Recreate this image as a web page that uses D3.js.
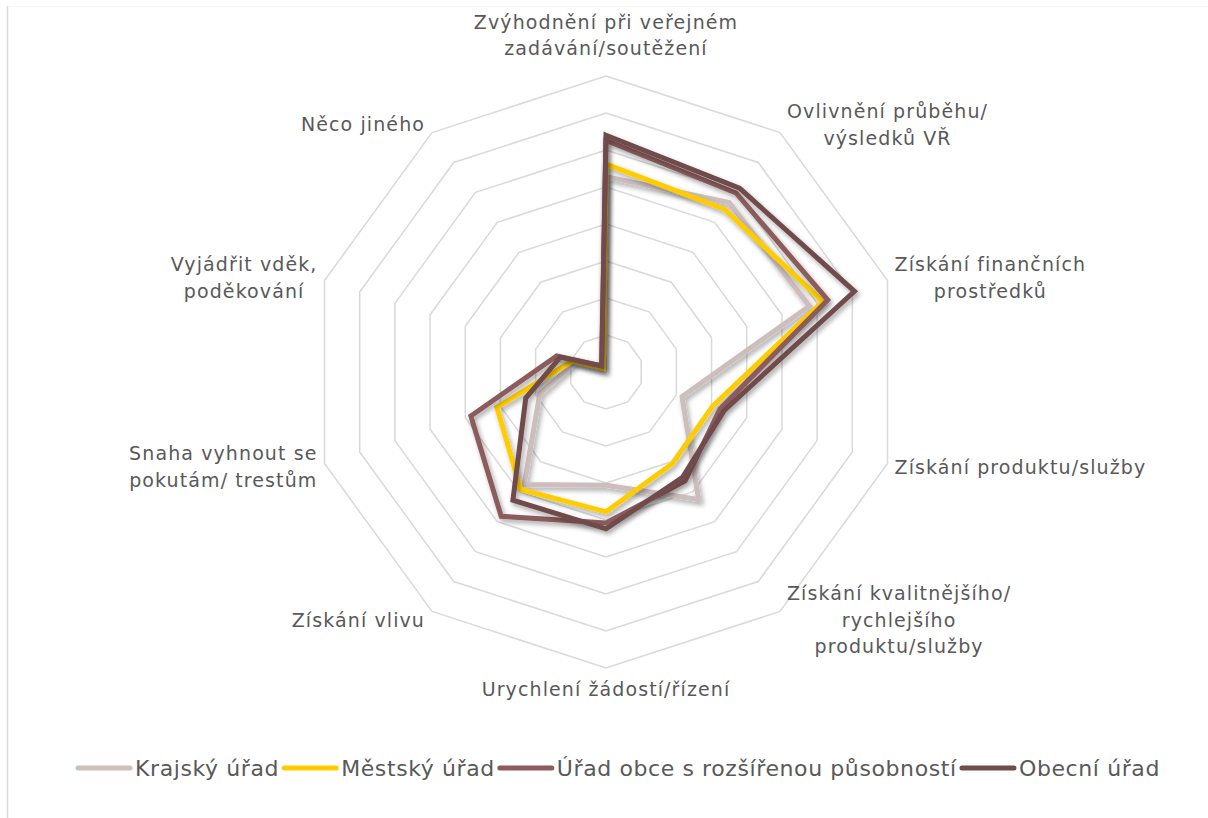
<!DOCTYPE html>
<html>
<head>
<meta charset="utf-8">
<title>Radar</title>
<style>
body { margin: 0; background: #fff; }
svg { display: block; }
text { font-family: "DejaVu Sans", sans-serif; fill: #595959; }
</style>
</head>
<body>
<svg width="1208" height="818"></svg>
<script src="https://d3js.org/d3.v7.min.js"></script>
<script>
// categories, clockwise from the top
var categories = [
  ["Zvýhodnění při veřejném", "zadávání/soutěžení"],
  ["Ovlivnění průběhu/", "výsledků VŘ"],
  ["Získání finančních", "prostředků"],
  ["Získání produktu/služby"],
  ["Získání kvalitnějšího/", "rychlejšího", "produktu/služby"],
  ["Urychlení žádostí/řízení"],
  ["Získání vlivu"],
  ["Snaha vyhnout se", "pokutám/ trestům"],
  ["Vyjádřit vděk,", "poděkování"],
  ["Něco jiného"]
];
var seriesNames = ["Krajský úřad", "Městský úřad", "Úřad obce s rozšířenou působností", "Obecní úřad"];
var krajsky = [26.4, 28.3, 28.9, 10.8, 21.3, 15.3, 18.8, 9.4, 4.3, 0.3];
var mestsky = [28.1, 27.2, 30.8, 15.1, 15.3, 18.9, 19.6, 15.5, 4.8, 0.6];
var rop     = [31.3, 29.9, 31.5, 16.2, 18.2, 20.4, 24.1, 19.2, 7.0, 1.0];
var obecni  = [32.0, 30.7, 35.3, 16.8, 17.6, 21.2, 21.4, 11.4, 6.5, 1.0];
var ringTicks = [5, 10, 15, 20, 25, 30, 35, 40];

var colors = ["#CDBDBD", "#FFCC00", "#8C5C5C", "#714B4B"];
var allSeries = [krajsky, mestsky, rop, obecni];

var svg = d3.select("svg");
var cx = 606, cy = 372;
var r = d3.scaleLinear().domain([0, 40]).range([0, 296]);
var n = categories.length;
var angle = d3.scaleLinear().domain([0, n]).range([0, 2 * Math.PI]);

function pt(i, v) {
  var a = angle(i);
  return [Math.sin(a) * r(v), -Math.cos(a) * r(v)];
}

// left frame edge
svg.append("line").attr("x1", 7.5).attr("x2", 7.5).attr("y1", 6).attr("y2", 818)
  .attr("stroke", "#D9D9D9").attr("stroke-width", 1.5);
svg.append("line").attr("x1", 8).attr("x2", 1208).attr("y1", 6.5).attr("y2", 6.5)
  .attr("stroke", "#F4F4F4").attr("stroke-width", 1);

var defs = svg.append("defs");
var f = defs.append("filter").attr("id", "shadow")
  .attr("x", "-20%").attr("y", "-20%").attr("width", "140%").attr("height", "140%");
f.append("feDropShadow").attr("dx", 2).attr("dy", 3).attr("stdDeviation", 2.5)
  .attr("flood-color", "#000").attr("flood-opacity", 0.35);

var g = svg.append("g").attr("transform", "translate(" + cx + "," + cy + ")");

// grid rings
var ring = d3.line().curve(d3.curveLinearClosed);
g.selectAll("path.ring").data(ringTicks).enter().append("path")
  .attr("class", "ring")
  .attr("d", function(t) { return ring(d3.range(n).map(function(i) { return pt(i, t); })); })
  .attr("fill", "none").attr("stroke", "#D9D9D9").attr("stroke-width", 1.5);

// series
g.selectAll("path.series").data(allSeries).enter().append("path")
  .attr("class", "series")
  .attr("d", function(s) { return ring(s.map(function(v, i) { return pt(i, v); })); })
  .attr("fill", "none")
  .attr("stroke", function(d, i) { return colors[i]; })
  .attr("stroke-width", 5)
  .attr("stroke-linejoin", "miter")
  .attr("filter", "url(#shadow)");

// category labels
var lh = 26.5, gap = 7;
categories.forEach(function(lines, i) {
  var a = angle(i);
  var dx = Math.sin(a), dy = -Math.cos(a);
  var vx = dx * r(40), vy = dy * r(40);
  var lg = g.append("g");
  var t = lg.append("text").attr("font-size", 19).attr("letter-spacing", 1.1)
    .attr("text-anchor", "middle");
  lines.forEach(function(s, k) {
    t.append("tspan").attr("x", 0).attr("y", k * lh).text(s);
  });
  var bb = t.node().getBBox();
  var bw = bb.width, bh = (lines.length - 1) * lh;
  var tx, ty;
  if (Math.abs(dx) < 0.01) {
    tx = vx;
    ty = dy < 0 ? vy - 21 - bh : vy + 28;
  } else {
    tx = dx > 0 ? vx + gap + bw / 2 : vx - gap - bw / 2;
    ty = vy + dy * 10 - bh / 2 + 7;
  }
  lg.attr("transform", "translate(" + tx + "," + ty + ")");
});

// legend
var leg = svg.append("g");
var items = leg.selectAll("g").data(seriesNames).enter().append("g");
items.append("line").attr("x1", 0).attr("x2", 52).attr("y1", 0).attr("y2", 0)
  .attr("stroke", function(d, i) { return colors[i]; })
  .attr("stroke-width", 5).attr("stroke-linecap", "round");
items.append("text").attr("x", 57).attr("y", 8).attr("font-size", 22)
  .attr("letter-spacing", 0.6).text(function(d) { return d; });
var xpos = 0;
items.each(function() {
  var w = this.getBBox().width;
  d3.select(this).attr("transform", "translate(" + xpos + ",0)");
  xpos += w + 5;
});
leg.attr("transform", "translate(" + (619 - (xpos - 5) / 2) + ",768)");
</script>
</body>
</html>
